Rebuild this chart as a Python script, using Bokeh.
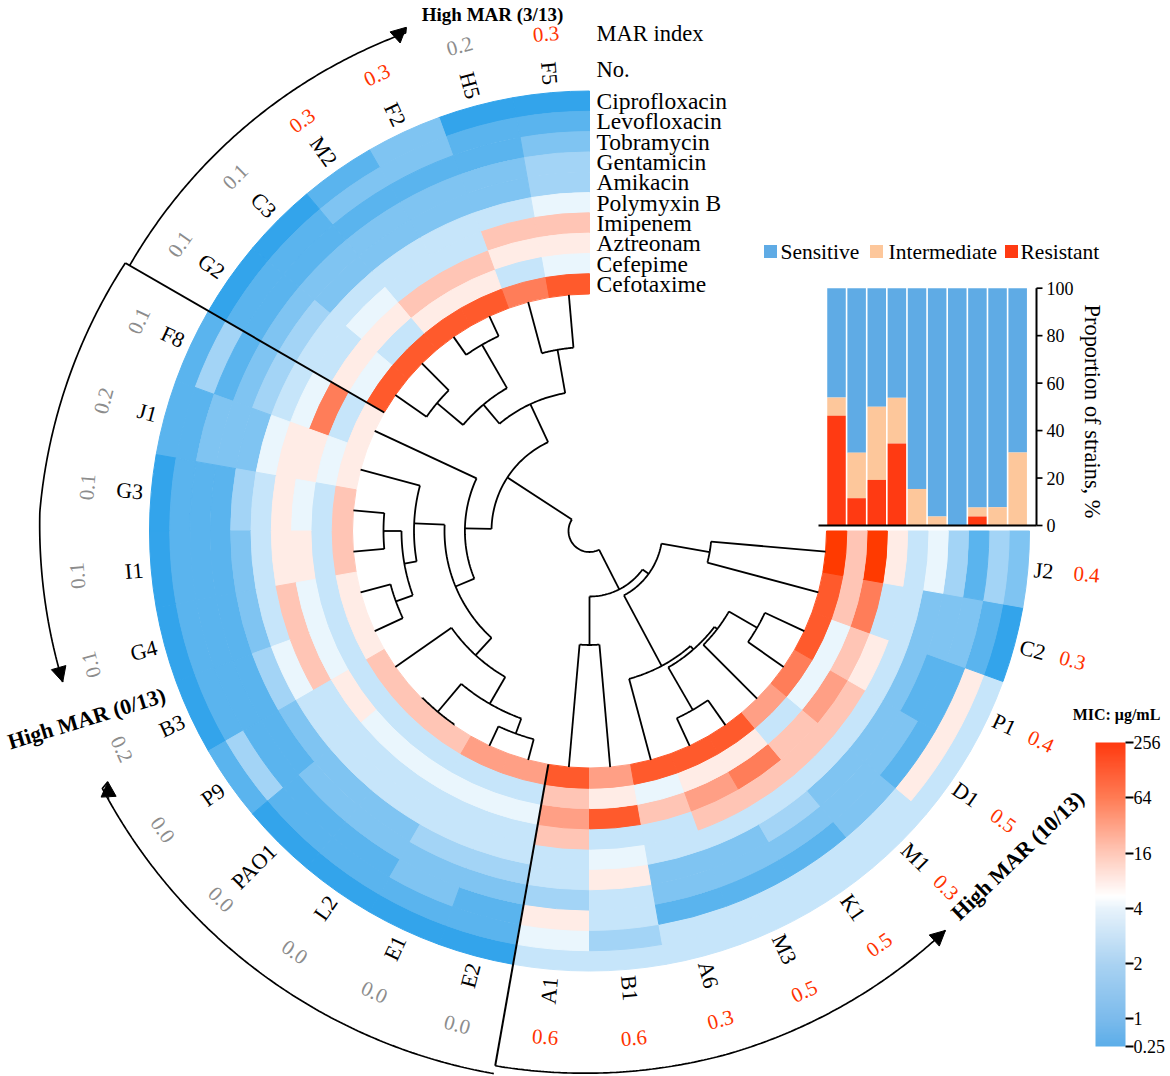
import numpy as np
from bokeh.plotting import figure
from bokeh.embed import file_html
from bokeh.resources import INLINE
from bokeh.core.properties import value
from bokeh.models import (ColumnDataSource, LinearColorMapper, ColorBar, FixedTicker,
                          Range1d, Arrow, NormalHead)
from bokeh.transform import transform

# ---------- data ----------
strains = ["F5", "H5", "F2", "M2", "C3", "G2", "F8", "J1", "G3", "I1", "G4", "B3", "P9", "PAO1",
           "L2", "E1", "E2", "A1", "B1", "A6", "M3", "K1", "M1", "D1", "P1", "C2", "J2"]
mar_index = ["0.3", "0.2", "0.3", "0.3", "0.1", "0.1", "0.1", "0.2", "0.1", "0.1", "0.1", "0.2", "0.0", "0.0",
             "0.0", "0.0", "0.0", "0.6", "0.6", "0.3", "0.5", "0.5", "0.3", "0.5", "0.4", "0.3", "0.4"]
drugs = ["Ciprofloxacin", "Levofloxacin", "Tobramycin", "Gentamicin", "Amikacin",
         "Polymyxin B", "Imipenem", "Aztreonam", "Cefepime", "Cefotaxime"]
# MIC (µg/mL): one row per strain, one column per drug (outer ring to inner ring)
mic = [
    [.125, .25, .5, 1, 1, 4, 16, 8, 4, 128],
    [.125, .25, .25, .5, .5, 2, 16, 8, 2, 64],
    [.5, .5, .25, .5, .5, 2, 2, 16, 8, 128],
    [.25, .5, .25, .5, .5, 2, 2, 16, 8, 128],
    [.125, .25, .25, .5, .5, 2, 4, 8, 2, 128],
    [.125, .25, .25, .5, 1, 2, 2, 8, 4, 128],
    [.25, 1, .25, .5, 1, 2, 4, 64, 2, 8],
    [.25, .25, .5, .5, .5, 4, 8, 8, 4, 8],
    [.125, .25, .25, .25, 1, 2, 8, 4, 2, 16],
    [.125, .25, .25, .25, .5, 2, 8, 8, 2, 16],
    [.125, .25, .25, .25, .5, 2, 16, 4, 2, 8],
    [.125, .25, .25, .25, 1, 4, 16, 4, 2, 8],
    [.25, 1, .25, .25, .5, 2, 2, 8, 2, 16],
    [.125, .25, .25, .5, .5, 2, 2, 4, 2, 16],
    [.125, .25, .25, .5, .5, 2, 2, 4, 2, 16],
    [.125, .25, .5, .5, 1, 2, 2, 4, 2, 32],
    [.125, .25, .25, .5, 1, 2, 2, 4, 2, 32],
    [2, 4, 8, 1, 2, 2, 16, 32, 16, 128],
    [2, 1, 2, 2, 8, 4, 2, 128, 8, 32],
    [2, 2, .25, .5, .5, 2, 2, 16, 4, 128],
    [2, 2, .25, .5, .5, 2, 16, 32, 8, 128],
    [2, 2, .25, .5, 1, 2, 16, 64, 8, 128],
    [2, 2, .5, .5, .5, 2, 16, 16, 2, 32],
    [2, 8, .25, .5, .5, 2, 16, 32, 4, 64],
    [2, 8, .25, .25, .5, 2, 8, 16, 4, 128],
    [.125, .25, .5, .5, .5, 2, 2, 64, 16, 128],
    [.5, 1, .25, 1, 4, 2, 8, 256, 16, 256],
]
mic_palette = ["#33A4EB", "#5AB4EE", "#7FC4F2", "#A3D4F6", "#C6E5FA", "#EAF6FD",
               "#FFECE6", "#FFC5B5", "#FF9F85", "#FF7D59", "#FF5A2C", "#FF3A00"]
# dendrogram: (merge radius, child, child)
tree = (21,
        (98,
         (140, (184, "F5", "H5"), (165, (215, "F2", "M2"), (199, "C3", "G2"))),
         (124.6, "F8",
          (145,
           (175.5, "J1", (188, (206, "G3", "I1"), (206, "G4", "B3"))),
           (168.5, "P9", (199.5, (236, "PAO1", "L2"), (215.5, "E1", "E2")))))),
        (65.5,
         (114, "A1", "B1"),
         (73,
          (153, "A6", (157.5, (206.5, "M3", "K1"), (161, "M1", (193.5, "D1", "P1")))),
          (122, "C2", "J2"))))
# stacked bars, one per drug, inner ring to outer ring
bar_resistant = [46.2, 11.5, 19.2, 34.6, 0, 0, 0, 3.8, 0, 0]
bar_intermediate = [7.7, 19.2, 30.8, 19.2, 15.4, 3.8, 0, 3.8, 7.7, 30.8]
pct_ticks = [0, 20, 40, 60, 80, 100]
legend_names = ["Sensitive", "Intermediate", "Resistant"]
legend_colors = ["#5FABE5", "#FDC79B", "#FF3A12"]
cbar_stops = [0, 0.5, 1.5, 2.5, 2.72, 3.5, 4.5, 5.5]
cbar_colors = ["#5CAEE9", "#7CBBEC", "#ABD3F2", "#E8F3FB", "#FFFFFF", "#FFC8B8", "#FF7C55", "#FF3A10"]
cbar_ticks = {0: "0.25", 0.5: "1", 1.5: "2", 2.5: "4", 3.5: "16", 4.5: "64", 5.5: "256"}

# ---------- layout constants ----------
W, H = 1170, 1076
CX, CY = 589.0, 530.5
R_IN, R_OUT = 237.0, 440.0
RW = (R_OUT - R_IN) / 10
FONT = value("Liberation Serif")
MAR_RADII = [499, 502, 503, 501, 501, 500, 497, 503, 504, 514, 516, 516, 521, 521,
             514, 509, 511, 508, 509, 506, 508, 505, 504, 505, 498, 500, 499]


def X(px):
    return px - CX


def Y(py):
    return CY - py


def pol(theta, r):
    t = np.radians(theta)
    return r * np.cos(t), r * np.sin(t)


def leaf_theta(name):
    return 95 + 10 * strains.index(name)


p = figure(width=W, height=H, output_backend="svg", toolbar_location=None,
           x_range=Range1d(-CX, W - CX), y_range=Range1d(CY - H, CY),
           x_axis_location=None, y_axis_location=None, min_border=0,
           outline_line_color=None)
p.grid.visible = False

# ---------- heat rings ----------
cells = dict(start=[], end=[], inner=[], outer=[], lm=[])
for i, row in enumerate(mic):
    for j, v in enumerate(row):
        cells["start"].append(90 + 10 * i)
        cells["end"].append(100 + 10 * i)
        cells["outer"].append(R_OUT - j * RW)
        cells["inner"].append(R_OUT - (j + 1) * RW)
        cells["lm"].append(float(np.log2(v)))
mapper = LinearColorMapper(palette=mic_palette, low=-3.5, high=8.5)
p.annular_wedge(x=0, y=0, inner_radius="inner", outer_radius="outer", start_angle="start", end_angle="end",
                start_angle_units="deg", end_angle_units="deg",
                fill_color=transform("lm", mapper), line_color=transform("lm", mapper), line_width=1.0,
                source=ColumnDataSource(cells))

# ---------- dendrogram ----------
xs, ys = [], []


def add_poly(thetas, rs):
    a, b = pol(np.asarray(thetas, float), np.asarray(rs, float))
    xs.append(a.tolist())
    ys.append(b.tolist())


def walk(node):
    if isinstance(node, str):
        return leaf_theta(node), R_IN
    r, a, b = node
    ta, ra = walk(a)
    tb, rb = walk(b)
    add_poly([ta, ta], [ra, r])
    add_poly([tb, tb], [rb, r])
    add_poly(np.linspace(ta, tb, 40), np.full(40, r))
    return (ta + tb) / 2, r


walk(tree)
p.multi_line(xs, ys, line_color="black", line_width=1.8)


# ---------- outer arcs, separators, arrows ----------
def guide(thetas, radii):
    t = np.linspace(thetas[0], thetas[-1], 150)
    r = np.interp(t, thetas, radii)
    a, b = pol(t, r)
    p.line(a, b, line_color="black", line_width=1.7)
    a0, b0 = pol(t[-6], r[-6])
    a1, b1 = pol(t[-1], r[-1])
    p.add_layout(Arrow(end=NormalHead(size=15, fill_color="black", line_color="black"),
                       x_start=a0, y_start=b0, x_end=a1, y_end=b1, line_color="black", line_width=1))


guide([150, 136, 125, 110], [536, 544, 540, 531])
guide([150, 178, 196], [536, 550, 548])
guide([260, 232, 207.5], [543, 545, 551])
guide([260, 285, 311.7], [543, 541, 535])
for th, r1 in ((150, 536), (260, 543)):
    a, b = pol(np.array([th, th], float), np.array([R_IN, r1], float))
    p.line(a, b, line_color="black", line_width=2)

# ---------- sample labels ----------
for name in strains:
    th = leaf_theta(name)
    if th < 270:
        a, b = pol(th, 448)
        p.text([a], [b], [name], angle=np.radians(th - 180), text_align="right", text_baseline="middle",
               text_font=FONT, text_font_size="22px", text_color="black")
    else:
        a, b = pol(th, 446)
        p.text([a], [b], [name], angle=np.radians(th), text_align="left", text_baseline="middle",
               text_font=FONT, text_font_size="22px", text_color="black")
for name, m, r in zip(strains, mar_index, MAR_RADII):
    th = leaf_theta(name)
    if th < 200:
        rot = th - 90
    elif th < 310:
        rot = th + 90
    else:
        rot = th
    a, b = pol(th, r)
    p.text([a], [b], [m], angle=np.radians(rot), text_align="center", text_baseline="middle",
           text_font=FONT, text_font_size="21px", text_color="#FF3300" if float(m) >= 0.3 else "#8C8C8C")

# ---------- drug labels ----------
for j, d in enumerate(drugs):
    p.text([X(596)], [R_OUT - (j + 0.5) * RW], [d], text_align="left", text_baseline="middle",
           text_font=FONT, text_font_size="23.5px", text_color="black")
p.text([X(596)], [Y(33)], ["MAR index"], text_baseline="middle", text_font=FONT, text_font_size="22.5px")
p.text([X(596)], [Y(69)], ["No."], text_baseline="middle", text_font=FONT, text_font_size="22.5px")

# ---------- group titles ----------
for txt, px, py, rot, fs in (("High MAR (3/13)", 492, 14, 0, "19px"),
                             ("High MAR (0/13)", 86, 718, 17, "22px"),
                             ("High MAR (10/13)", 1017, 855, 44, "22px")):
    p.text([X(px)], [Y(py)], [txt], angle=np.radians(rot), text_align="center", text_baseline="middle",
           text_font=FONT, text_font_size=fs, text_font_style="bold")

# ---------- stacked bars on their own scales ----------
BAR0, BARSTEP = 836.0, 20.13
Y0, PCT = 525.0, 2.373
p.extra_x_ranges["bars"] = Range1d((0 - BAR0) / BARSTEP, (W - BAR0) / BARSTEP)
p.extra_y_ranges["pct"] = Range1d((Y0 - H) / PCT, Y0 / PCT)
idx = np.arange(10)
res = np.array(bar_resistant)
mid = res + np.array(bar_intermediate)
for bot, top, col in ((mid, np.full(10, 100.0), legend_colors[0]),
                      (res, mid, legend_colors[1]),
                      (np.zeros(10), res, legend_colors[2])):
    p.vbar(x=idx, width=0.92, bottom=bot, top=top, fill_color=col, line_color=None,
           x_range_name="bars", y_range_name="pct")
AX = (1036 - BAR0) / BARSTEP
TICK = (1042 - BAR0) / BARSTEP
p.segment([AX], [0], [AX], [100], line_color="black", line_width=2, x_range_name="bars", y_range_name="pct")
p.segment([(818 - BAR0) / BARSTEP], [0], [AX], [0], line_color="black", line_width=2,
          x_range_name="bars", y_range_name="pct")
p.segment([AX] * 6, pct_ticks, [TICK] * 6, pct_ticks, line_color="black", line_width=1.7,
          x_range_name="bars", y_range_name="pct")
p.text([(1046 - BAR0) / BARSTEP] * 6, pct_ticks, [str(t) for t in pct_ticks], text_baseline="middle",
       text_font=FONT, text_font_size="18px", x_range_name="bars", y_range_name="pct")
p.text([X(1092)], [Y(411)], ["Proportion of strains, %"], angle=-np.pi / 2, text_align="center",
       text_baseline="middle", text_font=FONT, text_font_size="22.4px")

# legend
for name, col, sx, tx in zip(legend_names, legend_colors, (770, 876, 1011), (780, 888, 1020)):
    p.rect([X(sx)], [Y(251)], width=13, height=13, fill_color=col, line_color=None)
    p.text([X(tx)], [Y(251)], [name], text_baseline="middle", text_font=FONT, text_font_size="21.5px")

# ---------- colour bar ----------
lv = np.linspace(0, 5.5, 256)
rgb = np.array([[int(c[k:k + 2], 16) for k in (1, 3, 5)] for c in cbar_colors], float)
grad = ["#%02X%02X%02X" % tuple(int(round(np.interp(v, cbar_stops, rgb[:, k]))) for k in range(3)) for v in lv]
cb = ColorBar(color_mapper=LinearColorMapper(palette=grad, low=0, high=5.5),
              ticker=FixedTicker(ticks=list(cbar_ticks)), major_label_overrides=cbar_ticks,
              width=30, height=304, location=(1095, H - 1046), padding=0, margin=0,
              background_fill_color=None, bar_line_color=None,
              major_tick_in=0, major_tick_out=8, major_tick_line_color="black", major_tick_line_width=2,
              minor_tick_line_color=None, label_standoff=0,
              major_label_text_font="Liberation Serif", major_label_text_font_size="18px",
              major_label_text_color="black")
p.add_layout(cb, "center")
p.text([X(1116)], [Y(714)], ["MIC: μg/mL"], text_align="center", text_baseline="middle",
       text_font=FONT, text_font_size="16px", text_font_style="bold")

open("out.html", "w").write(file_html(p, INLINE))
